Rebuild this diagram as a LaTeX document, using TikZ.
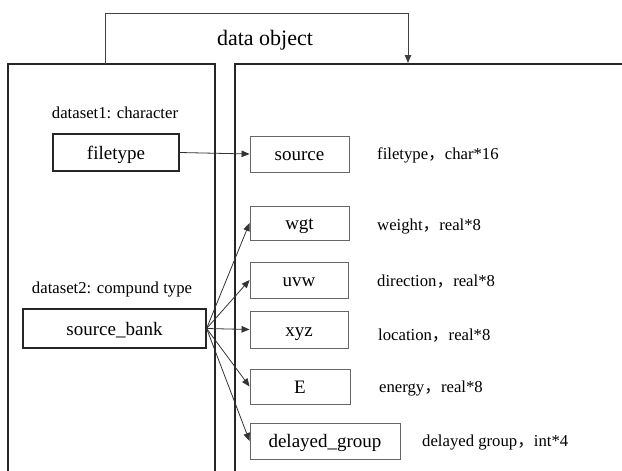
\documentclass[tikz,border=0pt]{standalone}
\usepackage{fontspec}
\setmainfont{Liberation Serif}
\newfontfamily\tmsfont{Liberation Serif}
\newfontfamily\cjk{Noto Sans CJK SC}
\usetikzlibrary{arrows.meta}
\newcommand{\zc}{{\cjk ，}}
\begin{document}
\begin{tikzpicture}[x=1pt,y=-1pt,
  frame/.style={draw=black!85,line width=1.4pt},
  boxtext/.style={inner sep=0pt,text height=15pt,text depth=2pt,font=\tmsfont\fontsize{19}{22}\selectfont},
  field/.style={boxtext,draw=black!60,line width=0.9pt},
  srcbox/.style={boxtext,draw=black!85,line width=1.2pt},
  lbl/.style={inner sep=0pt,font=\tmsfont\fontsize{16.7}{20}\selectfont},
  desc/.style={lbl,anchor=west},
  link/.style={draw=black!80,line width=0.8pt,-{Triangle[length=8pt,width=6.5pt]}}]
\useasboundingbox (0,0) rectangle (622,471);

% two open-bottomed containers
\draw[frame] (8,472) -- (8,64) -- (215,64) -- (215,472);
\draw[frame] (235,472) -- (235,64) -- (624,64);

% bracket joining the two containers
\coordinate (bl) at (105,64);
\coordinate (br) at (408,63);
\draw[draw=black!75,line width=0.9pt,-{Triangle[length=8pt,width=6.5pt]}]
  (bl) -- (105,13) -- (408,13) -- (br);
\node[lbl,font=\tmsfont\fontsize{22}{26}\selectfont] (title) at (265,40) {data object};

% left container
\node[lbl] (ds1) at (115,113) {dataset1: character};
\node[srcbox,minimum width=126pt,minimum height=37pt] (filetype) at (116,152.5) {filetype};
\node[lbl] (ds2) at (112,290) {dataset2: compund type};
\node[srcbox,minimum width=183pt,minimum height=39pt] (bank) at (114.5,328.5) {source\_bank};

% right container
\node[field,minimum width=99pt,minimum height=36pt] (source) at (299.5,154) {source};
\node[field,minimum width=99pt,minimum height=34pt] (wgt) at (299.5,223) {wgt};
\node[field,minimum width=98pt,minimum height=36pt] (uvw) at (299,280) {uvw};
\node[field,minimum width=98pt,minimum height=37pt] (xyz) at (299,329.5) {xyz};
\node[field,minimum width=100pt,minimum height=35pt] (E) at (300,386.5) {E};
\node[field,minimum width=150pt,minimum height=36pt] (dg) at (325,441) {delayed\_group};

\node[desc] (d1) at (377,155) {filetype\zc char*16};
\node[desc] (d2) at (377,227) {weight\zc real*8};
\node[desc] (d3) at (377,282) {direction\zc real*8};
\node[desc] (d4) at (378,336) {location\zc real*8};
\node[desc] (d5) at (379,389) {energy\zc real*8};
\node[desc] (d6) at (422,443) {delayed group\zc int*4};

% connectors
\draw[link] (filetype.east) -- (source.west);
\foreach \t in {wgt,uvw,xyz,E,dg}
  \draw[link] (bank.east) -- (\t.west);
\end{tikzpicture}
\end{document}
